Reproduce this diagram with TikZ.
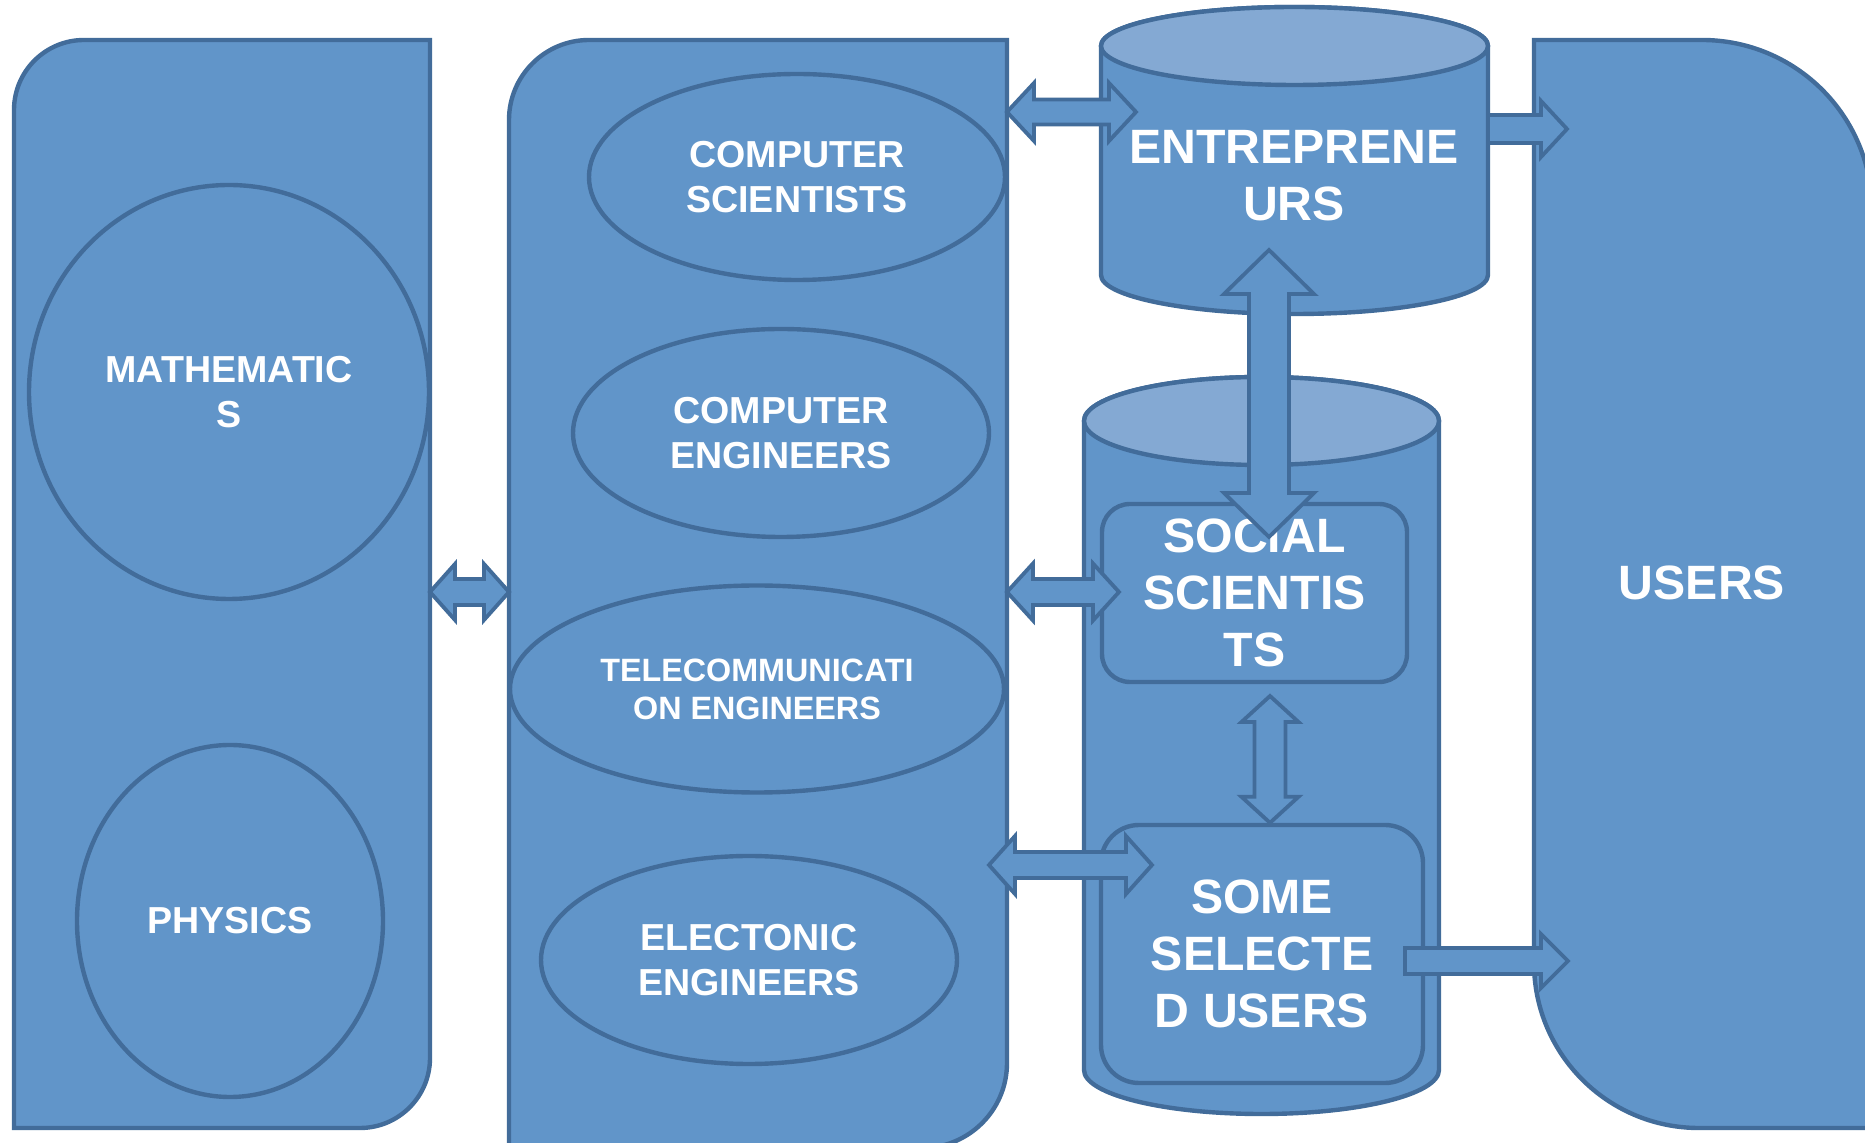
\documentclass[tikz,border=0pt]{standalone}
\usepackage{fontspec}
\setmainfont{Liberation Sans}
\usetikzlibrary{shapes.geometric,calc}
\definecolor{boxfill}{RGB}{97,149,201}
\definecolor{boxline}{RGB}{66,108,154}
\definecolor{boxtop}{RGB}{132,169,211}
% block arrows: shaft half width, head half width, head length, from, to
\newcommand{\blockdbl}[5]{\draw[arrowS] (#4)
  -- ($(#4)!#3!(#5)!#2!90:(#5)$) -- ($(#4)!#3!(#5)!#1!90:(#5)$)
  -- ($(#5)!#3!(#4)!#1!-90:(#4)$) -- ($(#5)!#3!(#4)!#2!-90:(#4)$)
  -- (#5)
  -- ($(#5)!#3!(#4)!#2!90:(#4)$) -- ($(#5)!#3!(#4)!#1!90:(#4)$)
  -- ($(#4)!#3!(#5)!#1!-90:(#5)$) -- ($(#4)!#3!(#5)!#2!-90:(#5)$) -- cycle;}
\newcommand{\blocksgl}[5]{\draw[arrowS] ($(#4)!#1!90:(#5)$)
  -- ($(#5)!#3!(#4)!#1!-90:(#4)$) -- ($(#5)!#3!(#4)!#2!-90:(#4)$)
  -- (#5)
  -- ($(#5)!#3!(#4)!#2!90:(#4)$) -- ($(#5)!#3!(#4)!#1!90:(#4)$)
  -- ($(#4)!#1!-90:(#5)$) -- cycle;}
\begin{document}
\begin{tikzpicture}[x=0.5pt,y=-0.5pt,
  areaS/.style={inner sep=0pt,outer sep=0pt},
  panelS/.style={draw=boxline,fill=boxfill,line width=2.2pt},
  ellS/.style={ellipse,draw=boxline,fill=boxfill,line width=2.2pt,inner sep=0pt},
  roundS/.style={rectangle,draw=boxline,fill=boxfill,line width=2.2pt,inner sep=0pt},
  arrowS/.style={draw=boxline,fill=boxfill,line width=1.9pt,line join=miter},
  labS/.style={text=white,align=center,font=\fontsize{18.8}{22.5}\selectfont\bfseries},
  bigS/.style={text=white,align=center,font=\fontsize{24.1}{28.5}\selectfont\bfseries},
  smallS/.style={text=white,align=center,font=\fontsize{16.15}{19}\selectfont\bfseries}]
\useasboundingbox (0,0) rectangle (1865,1143);
\clip (0,0) rectangle (1865,1143);

% panels
\node[areaS,minimum width=208pt,minimum height=544pt] (mathP) at (222,584) {};
\node[areaS,minimum width=249pt,minimum height=554pt] (compP) at (758,594) {};
\node[areaS,minimum width=169pt,minimum height=544pt] (userP) at (1703,584) {};
\draw[panelS] (mathP.south west) -- ([yshift=-35pt]mathP.north west) arc[start angle=180,end angle=90,radius=35pt]
  -- (mathP.north east) -- ([yshift=35pt]mathP.south east) arc[start angle=0,end angle=-90,radius=35pt] -- cycle;
\draw[panelS] (compP.south west) -- ([yshift=-40pt]compP.north west) arc[start angle=180,end angle=90,radius=40pt]
  -- (compP.north east) -- ([yshift=42.5pt]compP.south east) arc[start angle=0,end angle=-90,radius=42.5pt] -- cycle;
\draw[panelS] ([yshift=82.5pt]userP.south west) -- (userP.north west) -- ([xshift=-85pt]userP.north east) arc[start angle=90,end angle=0,radius=85pt]
  -- (userP.south east) -- ([xshift=82.5pt]userP.south west) arc[start angle=270,end angle=180,radius=82.5pt] -- cycle;
\node[bigS] (users) at (1702,583) {USERS};

% ellipses
\node[ellS,labS,minimum width=200pt,minimum height=207pt] (math) at (229,392) {MATHEMATIC\\S};
\node[ellS,labS,minimum width=153pt,minimum height=176pt] (phys) at (230,921) {PHYSICS};
\node[ellS,labS,minimum width=208pt,minimum height=103pt] (csci) at (797,177) {COMPUTER\\SCIENTISTS};
\node[ellS,labS,minimum width=208pt,minimum height=104pt] (ceng) at (781,433) {COMPUTER\\ENGINEERS};
\node[ellS,smallS,minimum width=247pt,minimum height=103.5pt] (tele) at (757,689) {TELECOMMUNICATI\\ON ENGINEERS};
\node[ellS,labS,minimum width=208pt,minimum height=104pt] (elec) at (749,960) {ELECTONIC\\ENGINEERS};

% cylinders
\draw[panelS] (1101,46) -- (1101,275) arc[start angle=180,end angle=360,x radius=96.75pt,y radius=19.5pt]
  -- (1488,46) arc[start angle=0,end angle=180,x radius=96.75pt,y radius=19.5pt] -- cycle;
\draw[panelS,fill=boxtop] (1294.5,46) ellipse[x radius=96.75pt,y radius=19.5pt];
\node[bigS] (entr) at (1294,176) {ENTREPRENE\\URS};
\draw[panelS] (1084,421) -- (1084,1070) arc[start angle=180,end angle=360,x radius=88.75pt,y radius=22pt]
  -- (1439,421) arc[start angle=0,end angle=180,x radius=88.75pt,y radius=22pt] -- cycle;
\draw[panelS,fill=boxtop] (1261.5,421) ellipse[x radius=88.75pt,y radius=22pt];

% boxes
\node[roundS,bigS,rounded corners=14pt,minimum width=152.5pt,minimum height=89pt] (soc) at (1254.5,593) {SOCIAL\\SCIENTIS\\TS};
\node[roundS,bigS,rounded corners=19pt,minimum width=161pt,minimum height=129pt] (some) at (1262,954) {SOME\\SELECTE\\D USERS};

% arrow ends
\coordinate (mathE) at (mathP.east |- 0,592);
\coordinate (compW) at (compP.west |- 0,592);
\coordinate (compE1) at (compP.east |- 0,112);
\coordinate (entrW) at (1136,112);
\coordinate (entrE) at (1488,129);
\coordinate (userW1) at (1567,129);
\coordinate (compE2) at (compP.east |- 0,592);
\coordinate (socW) at (1119,592);
\coordinate (entrS) at (1269,250);
\coordinate (socN) at (1269,537);
\coordinate (socS) at (1270,696);
\coordinate (someN) at (some.north -| socS);
\coordinate (compE3) at (989,865);
\coordinate (someW) at (1152,865);
\coordinate (someE) at (1405,961);
\coordinate (userW2) at (1568,961);

\blockdbl{6.5pt}{14pt}{12.5pt}{mathE}{compW}
\blockdbl{6.25pt}{14.5pt}{13.5pt}{compE1}{entrW}
\blocksgl{7pt}{14pt}{13pt}{entrE}{userW1}
\blockdbl{6.5pt}{14.25pt}{13pt}{compE2}{socW}
\blockdbl{10pt}{22.5pt}{22pt}{entrS}{socN}
\blockdbl{7.75pt}{14.25pt}{13pt}{socS}{someN}
\blockdbl{6.5pt}{14.5pt}{13pt}{compE3}{someW}
\blocksgl{6.5pt}{13.5pt}{13.5pt}{someE}{userW2}
\end{tikzpicture}
\end{document}
